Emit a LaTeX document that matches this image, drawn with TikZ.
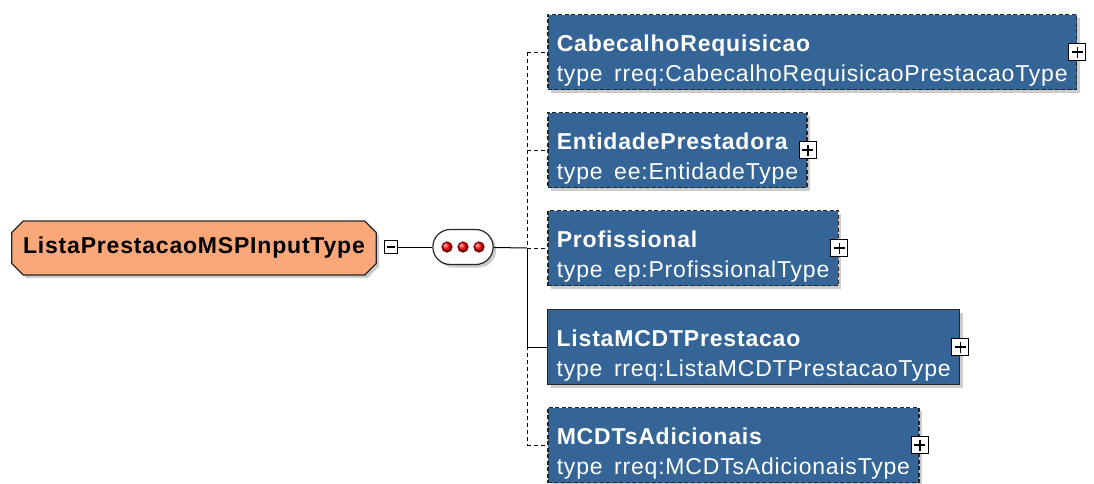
\documentclass[tikz,border=0pt]{standalone}
\usepackage{fontspec}
\setmainfont{Liberation Sans}[LetterSpace=3.5]
\usetikzlibrary{shapes.misc}
\usetikzlibrary{shadows}
\usetikzlibrary{calc}

\definecolor{azulel}{RGB}{52,101,150}
\definecolor{laranja}{RGB}{250,167,122}
\newcommand{\nome}[1]{\rule{0pt}{33pt}\textbf{#1}}

\tikzset{
  sombra/.style={drop shadow={shadow xshift=3pt,shadow yshift=-3pt,fill=black,opacity=.2}},
  elem/.style={sombra,draw=black!85,line width=1.3pt,fill=azulel,text=white,anchor=west,
    align=left,inner xsep=9pt,inner ysep=0pt,minimum height=75pt,font=\fontsize{23}{30}\selectfont},
  opc/.style={elem,line width=1.6pt,dash pattern=on 4pt off 2.5pt},
  fio/.style={line width=1pt},
  fiotrac/.style={fio,dash pattern=on 4pt off 3pt},
  caixa/.style={draw,fill=white,line width=1pt,inner sep=0pt},
  mais/.style={caixa,minimum size=17pt,path picture={
    \draw[line width=1.4pt] ($(path picture bounding box.west)+(3pt,0)$) -- ($(path picture bounding box.east)+(-3pt,0)$)
      ($(path picture bounding box.north)+(0,-3pt)$) -- ($(path picture bounding box.south)+(0,3pt)$);}},
  menos/.style={caixa,minimum size=13pt,path picture={
    \draw[line width=1.3pt] ($(path picture bounding box.west)+(2.5pt,0)$) -- ($(path picture bounding box.east)+(-2.5pt,0)$);}},
  bola/.style={circle,draw=red!35!black,line width=.6pt,shading=ball,ball color=red,minimum size=10.5pt,inner sep=0pt}
}

\begin{document}
\begin{tikzpicture}[x=1pt,y=-1pt]
\useasboundingbox (0,0) rectangle (1094,483);
\node[sombra,chamfered rectangle,chamfered rectangle xsep=8pt,draw=black!85,line width=1.2pt,fill=laranja,
  minimum width=356pt,minimum height=54pt,font=\fontsize{23}{28}\selectfont\bfseries] (raiz) at (194,248) {ListaPrestacaoMSPInputType};
\node[menos] (col) at (391,247) {};
\node[sombra,rounded rectangle,draw=black!85,line width=1.2pt,fill=white,minimum width=67pt,minimum height=35pt] (seq) at (463,247) {};
\foreach \i/\dx in {1/-16,2/0,3/16}
  \node[bola] (p\i) at ($(seq.center)+(\dx,0)$) {};
\coordinate (jn) at (527,248);

\node[opc] (cab) at (547,52) {\nome{CabecalhoRequisicao}\\type\enspace rreq:CabecalhoRequisicaoPrestacaoType};
\node[opc] (ent) at (547,150) {\nome{EntidadePrestadora}\\type\enspace ee:EntidadeType};
\node[opc] (prof) at (547,248) {\nome{Profissional}\\type\enspace ep:ProfissionalType};
\node[elem] (lista) at (547,347) {\nome{ListaMCDTPrestacao}\\type\enspace rreq:ListaMCDTPrestacaoType};
\node[opc] (adic) at (547,445) {\nome{MCDTsAdicionais}\\type\enspace rreq:MCDTsAdicionaisType};
\foreach \n in {cab,ent,prof,lista,adic}
  \node[mais] (x\n) at (\n.east) {};

\draw[fio] (col) -- (seq);
\draw[fio] (seq) -- (jn);
\draw[fiotrac] (cab.west -| jn) -- (adic.west -| jn);
\foreach \n in {cab,ent,prof,adic}
  \draw[fiotrac] (\n.west -| jn) -- (\n.west);
\draw[fio] (jn) -- (lista.west -| jn) -- (lista.west);
\end{tikzpicture}
\end{document}
